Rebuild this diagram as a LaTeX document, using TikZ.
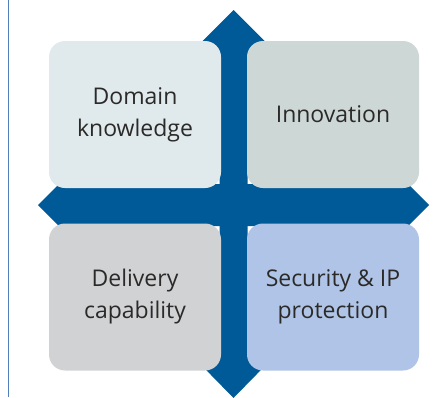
\documentclass[tikz,border=0pt]{standalone}
\usepackage{fontspec}
\setmainfont{Open Sans}
\usetikzlibrary{positioning}
\definecolor{crossblue}{HTML}{015A98}
\definecolor{rulerblue}{HTML}{4F80B9}
\definecolor{textgrey}{HTML}{2B2A29}
\definecolor{domainfill}{HTML}{E0E9EB}
\definecolor{innofill}{HTML}{CDD7D6}
\definecolor{delivfill}{HTML}{D1D2D4}
\definecolor{securefill}{HTML}{AFC4E6}
\tikzset{quad/.style = {rounded corners = 16pt, minimum width = 172pt, minimum height = 147pt,
    inner sep = 0, align = center, text = textgrey, font = \fontsize{23}{32}\selectfont}}

\begin{document}
\begin{tikzpicture}[x = 1pt, y = -1pt]
      \useasboundingbox (0, 0) rectangle (436, 397);
      \draw [rulerblue, line width = 1.2pt] (8.5, 0) -- (8.5, 397);

      \fill [crossblue] (38, 205) -- (59, 184) -- (408, 184) -- (429, 205)
        -- (408, 226) -- (59, 226) -- cycle;
      \fill [crossblue] (233.5, 10) -- (278.5, 55) -- (247.5, 55) -- (247.5, 352)
        -- (278.5, 352) -- (233.5, 398) -- (188.5, 352) -- (219.5, 352)
        -- (219.5, 55) -- (188.5, 55) -- cycle;

      \node [quad, fill = domainfill] (domain) at (135, 114.5) {Domain\\knowledge};
      \node [quad, fill = innofill] (inno) at (333, 114.5) {Innovation};
      \node [quad, fill = delivfill] (deliv) at (135, 297) {Delivery\\capability};
      \node [quad, fill = securefill] (secure) at (333, 297) {Security \& IP\\protection};
    \end{tikzpicture}
\end{document}
